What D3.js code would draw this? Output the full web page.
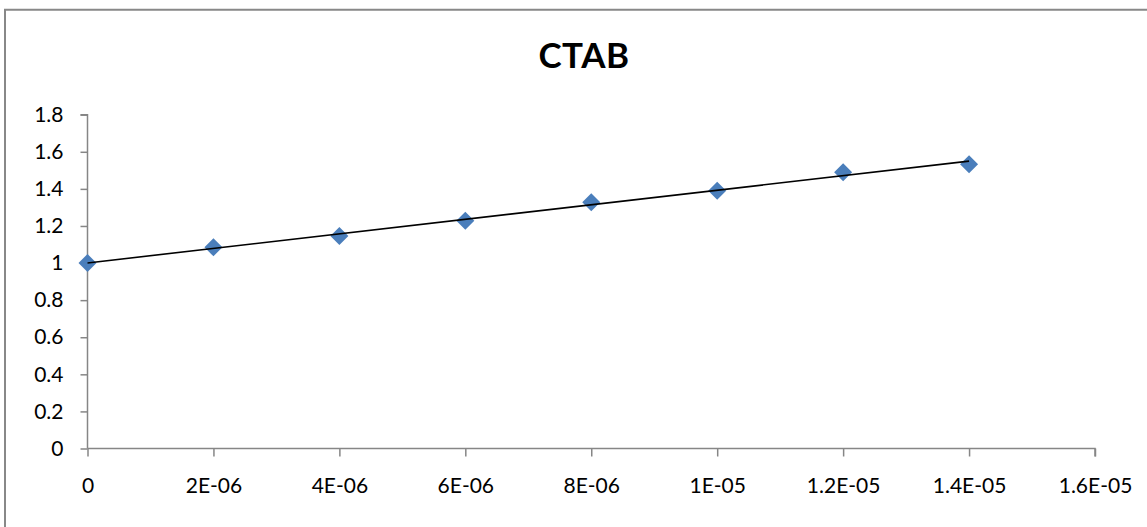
<!DOCTYPE html>
<html>
<head>
<meta charset="utf-8">
<script src="https://cdn.jsdelivr.net/npm/d3@7"></script>
<style>
  html, body { margin: 0; padding: 0; background: #fff; }
  svg { display: block; }
  text { font-family: Lato, "Open Sans", sans-serif; fill: #000; }
</style>
</head>
<body>
<svg id="chart" width="1147" height="527"></svg>
<script>
const title = "CTAB";
const xValues = [0, 2e-6, 4e-6, 6e-6, 8e-6, 1e-5, 1.2e-5, 1.4e-5];
const yValues = [1.0, 1.085, 1.146, 1.228, 1.328, 1.39, 1.49, 1.533];
const xTicks = [0, 2e-6, 4e-6, 6e-6, 8e-6, 1e-5, 1.2e-5, 1.4e-5, 1.6e-5];
const xTickLabels = ["0", "2E-06", "4E-06", "6E-06", "8E-06", "1E-05", "1.2E-05", "1.4E-05", "1.6E-05"];
const yTicks = [0, 0.2, 0.4, 0.6, 0.8, 1, 1.2, 1.4, 1.6, 1.8];
const yTickLabels = ["0", "0.2", "0.4", "0.6", "0.8", "1", "1.2", "1.4", "1.6", "1.8"];

(function () {
const svg = d3.select("#chart");
const pLeft = 87.5, pRight = 1095, pTop = 114.7, pBottom = 448.5;

// chart border
svg.append("rect").attr("x", 5).attr("y", 9.75).attr("width", 1160).attr("height", 540)
  .attr("fill", "#fff").attr("stroke", "#888888").attr("stroke-width", 2);

const x = d3.scaleLinear().domain([0, 1.6e-5]).range([pLeft, pRight]);
const y = d3.scaleLinear().domain([0, 1.8]).range([pBottom, pTop]);

// title
svg.append("text").attr("x", 584).attr("y", 68).attr("text-anchor", "middle")
  .style("font-size", "35px").style("font-weight", "bold").style("letter-spacing", "0.5px").text(title);

// y axis
const yAxis = d3.axisLeft(y).tickValues(yTicks).tickSize(7).tickPadding(17)
  .tickFormat((d, i) => yTickLabels[i]);
const gy = svg.append("g").attr("transform", `translate(${pLeft},0)`).call(yAxis);
gy.select(".domain").attr("stroke", "#868686").attr("stroke-width", 1.5).attr("d", `M-7,${pTop}H0V${pBottom}`);
gy.selectAll(".tick line").attr("stroke", "#868686").attr("stroke-width", 1.5);
gy.selectAll(".tick text").style("font-size", "21px").style("font-family", "Lato, 'Open Sans', sans-serif").attr("fill", "#000");

// x axis
const xAxis = d3.axisBottom(x).tickValues(xTicks).tickSize(8).tickPadding(22)
  .tickFormat((d, i) => xTickLabels[i]);
const gx = svg.append("g").attr("transform", `translate(0,${pBottom})`).call(xAxis);
gx.select(".domain").attr("stroke", "#868686").attr("stroke-width", 1.5).attr("d", `M${pLeft},0H${pRight}V8`);
gx.selectAll(".tick line").attr("stroke", "#868686").attr("stroke-width", 1.5);
gx.selectAll(".tick text").style("font-size", "21px").style("font-family", "Lato, 'Open Sans', sans-serif").attr("fill", "#000");

// data points
const pts = xValues.map((v, i) => ({ x: v, y: yValues[i] }));
const r = 9;
svg.append("g").selectAll("path").data(pts).join("path")
  .attr("d", d => {
    const cx = x(d.x), cy = y(d.y);
    return `M${cx},${cy - r}L${cx + r},${cy}L${cx},${cy + r}L${cx - r},${cy}Z`;
  })
  .attr("fill", "#4a7ebb");

// linear trendline (least squares)
const mx = d3.mean(pts, d => d.x), my = d3.mean(pts, d => d.y);
const slope = d3.sum(pts, d => (d.x - mx) * (d.y - my)) / d3.sum(pts, d => (d.x - mx) ** 2);
const icpt = my - slope * mx;
const x0 = d3.min(xValues), x1 = d3.max(xValues);
svg.append("line")
  .attr("x1", x(x0)).attr("y1", y(icpt + slope * x0))
  .attr("x2", x(x1)).attr("y2", y(icpt + slope * x1))
  .attr("stroke", "#000").attr("stroke-width", 1.6);
})();
</script>
</body>
</html>
